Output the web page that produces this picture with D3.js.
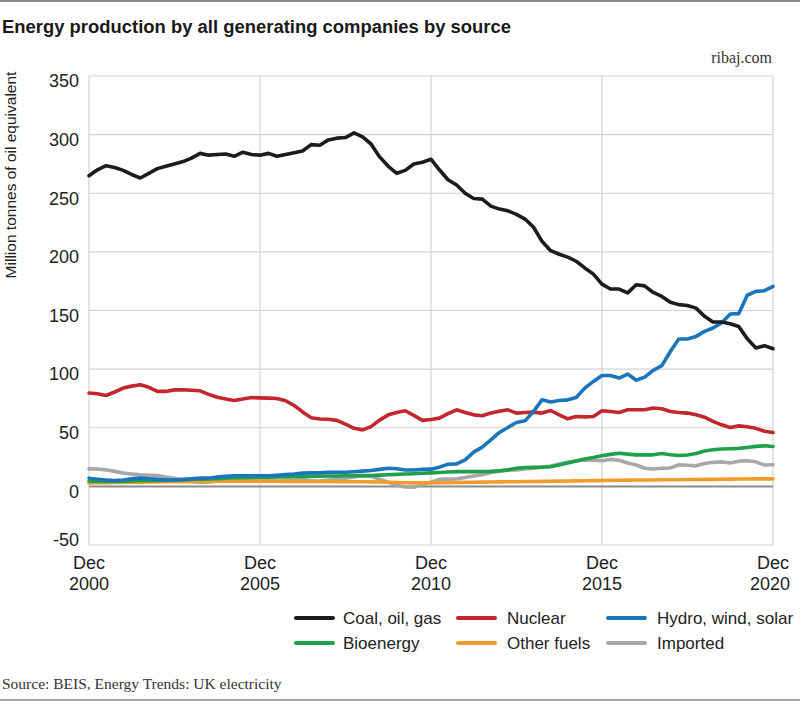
<!DOCTYPE html>
<html>
<head>
<meta charset="utf-8">
<script src="https://cdn.jsdelivr.net/npm/d3@7"></script>
<style>
  html, body { margin: 0; padding: 0; background: #fff; }
  svg { display: block; }
</style>
</head>
<body>
<svg id="chart" width="800" height="701"></svg>
<script>
// ---- data (quarterly, Dec 2000 to Dec 2020) ----
const coal = [265,270,273.5,272,269.5,266,263,267,271,273,275,277,280,284,282.5,283,283.5,281.5,285,283,282.5,284,281.5,283,284.5,286,291.5,291,295.5,297,297.5,301.5,298,292,281,273,267,269.5,275,276.5,279,270,261.5,257,250,245.5,245,239,236.5,235,232,228,221,209,201,198,195.5,192,186.3,181,172.5,168.3,168.3,165,172,171,165.4,162,157,155,154.3,152,145,140.2,140.2,138.7,136.4,126,118,120,117.4];
const nuclear = [79.6,79,77.5,80.5,83.8,85.5,86.6,84.5,81,81,82.3,82.4,82,81.5,78.5,76,74.5,73.2,74.5,75.8,75.5,75.3,75,73,69,63.5,58.5,57.5,57.3,56.3,53,49.5,48.2,51,56.5,61,63,64.5,60.5,56.3,57,58.2,62,65.3,63,61,60.3,62.5,64,65.3,62.5,63,63.3,62.5,64.7,61,57.6,59.6,59.3,59.6,64.5,63.8,63,65.3,65.3,65.3,66.8,66.2,63.9,63,62.5,61,59,55.5,52.5,50.2,51.6,50.8,49.5,47,45.9];
const renewables = [7,6,5.5,5,5.5,6.5,7,6.5,6,5.5,5.5,6,6.5,7,7,8,8.5,9,9,9,9,9,9.5,10,10.5,11.3,11.5,11.5,12,12,12,12.5,13,13.5,14.5,15.5,15,14,14,14.5,14.7,16.4,18.9,19.2,22.6,29.2,33.5,39.7,46,50.2,54.5,55.9,64,73.8,71.9,73.2,73.8,75.8,83.8,89.5,94.6,94.6,92.4,95.8,90.5,93.2,99,103,115,125.7,125.7,127.9,132.2,135.1,139.3,147,147.3,163,166.3,166.9,170.6];
const bioenergy = [4.5,4.3,4.2,4.3,4.5,4.6,4.8,4.9,5,5.1,5.3,5.5,5.8,6.1,6.3,6.6,7,7.3,7.5,7.7,7.8,7.9,8,8.1,8.2,8.3,8.5,8.7,8.8,8.9,9,9.1,9.2,9.3,9.6,9.9,10.2,10.5,10.8,11.2,11.5,11.8,12.2,12.6,12.6,12.6,12.6,12.8,13.3,14.1,15.5,16.1,16.2,16.3,16.8,18.3,20,21.7,23.3,24.6,26.1,27.3,28.3,27.5,26.9,26.9,26.9,28.1,27,26.3,26.8,28,30.2,31.2,31.9,32.1,32.4,33.2,34.1,34.6,34];
const otherFuels = [3,3.1,3.2,3.3,3.4,3.5,3.6,3.7,3.8,3.9,4,4,4.1,4.2,4.3,4.4,4.4,4.5,4.5,4.5,4.5,4.4,4.4,4.3,4.3,4.2,4.2,4.1,4.1,4,4,4,3.9,3.8,3.7,3.5,3.3,3.1,3,3,3,3.1,3.2,3.3,3.4,3.5,3.6,3.7,3.8,3.9,4,4.1,4.2,4.3,4.4,4.5,4.6,4.7,4.8,4.9,5,5.1,5.2,5.3,5.4,5.5,5.5,5.6,5.6,5.7,5.8,5.9,6,6,6.1,6.2,6.3,6.3,6.4,6.4,6.4];
const imported = [14.9,14.8,14.1,12.8,11.3,10.5,9.8,9.5,9.2,8,7,5.5,4,3.5,3.8,4.5,5,5.5,5.5,5.8,5.5,5,4.5,4.8,5.2,5.5,4.5,4.5,5.5,6.5,7,8,8.8,8.5,6,3.5,1,-0.5,-0.8,1.5,3.5,6,6.2,6.4,7.5,8.8,10,11.8,12.8,13.8,14.1,14.8,15.5,16.5,17.3,19,20.8,21.7,22.5,22.3,21.9,23,22.3,20,18.2,15.5,14.8,15.5,15.7,18.4,18,17.5,19.5,20.5,20.9,20,21.5,21.8,21,18.2,18.4];

const seriesNames = ["Coal, oil, gas","Nuclear","Hydro, wind, solar","Bioenergy","Other fuels","Imported"];
const seriesColors = ["#1c1c1c","#c1272d","#1b75bb","#1fa14c","#f39c2c","#a8a8a8"];
const seriesValues = [coal, nuclear, renewables, bioenergy, otherFuels, imported];
const drawOrder = [5,4,3,1,2,0];

const yTicks = [-50,0,50,100,150,200,250,300,350];
const xTickYears = [2000,2005,2010,2015,2020];

const dates = d3.range(coal.length).map(i => new Date(2000, 11 + i*3, 1));

// ---- layout ----
const svg = d3.select("#chart");
const plotL = 89, plotR = 773, plotT = 76, plotB = 545;

const x = d3.scaleTime().domain([new Date(2000,11,1), new Date(2020,11,1)]).range([plotL, plotR]);
const y = d3.scaleLinear().domain([-50, 350]).range([plotB, plotT]);

const sans = "'Liberation Sans', Arial, Helvetica, sans-serif";
const serif = "'Liberation Serif', 'DejaVu Serif', serif";

// top and bottom rules
svg.append("line").attr("x1",0).attr("x2",800).attr("y1",1).attr("y2",1)
  .attr("stroke","#8a8a8a").attr("stroke-width",2);
svg.append("line").attr("x1",0).attr("x2",800).attr("y1",700).attr("y2",700)
  .attr("stroke","#8a8a8a").attr("stroke-width",1.5);

// title
svg.append("text").attr("x",2).attr("y",33)
  .attr("font-family",sans).attr("font-weight","bold").attr("font-size",18)
  .attr("fill","#1a1a1a").attr("textLength",509).attr("lengthAdjust","spacingAndGlyphs")
  .text("Energy production by all generating companies by source");

svg.append("text").attr("x",772).attr("y",63).attr("text-anchor","end")
  .attr("font-family",serif).attr("font-size",16).attr("fill","#333")
  .text("ribaj.com");

// grid
const grid = svg.append("g");
yTicks.forEach(t => {
  grid.append("line").attr("x1",plotL).attr("x2",plotR).attr("y1",y(t)).attr("y2",y(t))
    .attr("stroke","#d3d3d3").attr("stroke-width",1.2);
});
xTickYears.forEach(yr => {
  const xx = x(new Date(yr,11,1));
  grid.append("line").attr("x1",xx).attr("x2",xx).attr("y1",plotT).attr("y2",plotB)
    .attr("stroke","#d3d3d3").attr("stroke-width",1.2);
});

// y axis labels
const yAxis = d3.axisLeft(y).tickValues(yTicks).tickSize(0).tickPadding(0).tickFormat(d => String(d));
const yg = svg.append("g").attr("transform",`translate(79,0)`).call(yAxis);
yg.select(".domain").remove();
yg.selectAll("text").attr("font-family",sans).attr("font-size",18).attr("fill","#222")
  .attr("dy", d => d === -50 ? "0.05em" : "0.6em");

// x axis labels
const xg = svg.append("g");
xTickYears.forEach(yr => {
  const xx = x(new Date(yr,11,1));
  xg.append("text").attr("x",xx).attr("y",569).attr("text-anchor","middle")
    .attr("font-family",sans).attr("font-size",18).attr("fill","#222").text("Dec");
  xg.append("text").attr("x",xx - (yr===2020?3:0)).attr("y",590).attr("text-anchor","middle")
    .attr("font-family",sans).attr("font-size",18).attr("fill","#222").text(String(yr));
});

// y axis title
svg.append("text").attr("transform","translate(16,175) rotate(-90)")
  .attr("text-anchor","middle").attr("font-family",sans).attr("font-size",15.5)
  .attr("fill","#222").text("Million tonnes of oil equivalent");

// zero line
svg.append("line").attr("x1",plotL).attr("x2",plotR).attr("y1",y(0)).attr("y2",y(0))
  .attr("stroke","#8c8c8c").attr("stroke-width",2);

// series lines
const line = d3.line().x((d,i) => x(dates[i])).y(d => y(d));
drawOrder.forEach(k => {
  svg.append("path").datum(seriesValues[k])
    .attr("d", line).attr("fill","none")
    .attr("stroke", seriesColors[k]).attr("stroke-width",3.6)
    .attr("stroke-linejoin","round").attr("stroke-linecap","round");
});

// legend
const legendPos = [
  {lx:296, tx:343, y:618},
  {lx:458, tx:507, y:618},
  {lx:608, tx:657, y:618},
  {lx:296, tx:343, y:643},
  {lx:458, tx:507, y:643},
  {lx:608, tx:657, y:643}
];
seriesNames.forEach((name,i) => {
  const p = legendPos[i];
  svg.append("line").attr("x1",p.lx).attr("x2",p.lx+37).attr("y1",p.y).attr("y2",p.y)
    .attr("stroke",seriesColors[i]).attr("stroke-width",4).attr("stroke-linecap","round");
  svg.append("text").attr("x",p.tx).attr("y",p.y).attr("dy","0.35em")
    .attr("font-family",sans).attr("font-size",17).attr("fill","#222").text(name);
});

// source
svg.append("text").attr("x",2).attr("y",689)
  .attr("font-family",serif).attr("font-size",15.5).attr("fill","#333")
  .text("Source: BEIS, Energy Trends: UK electricity");
</script>
</body>
</html>
